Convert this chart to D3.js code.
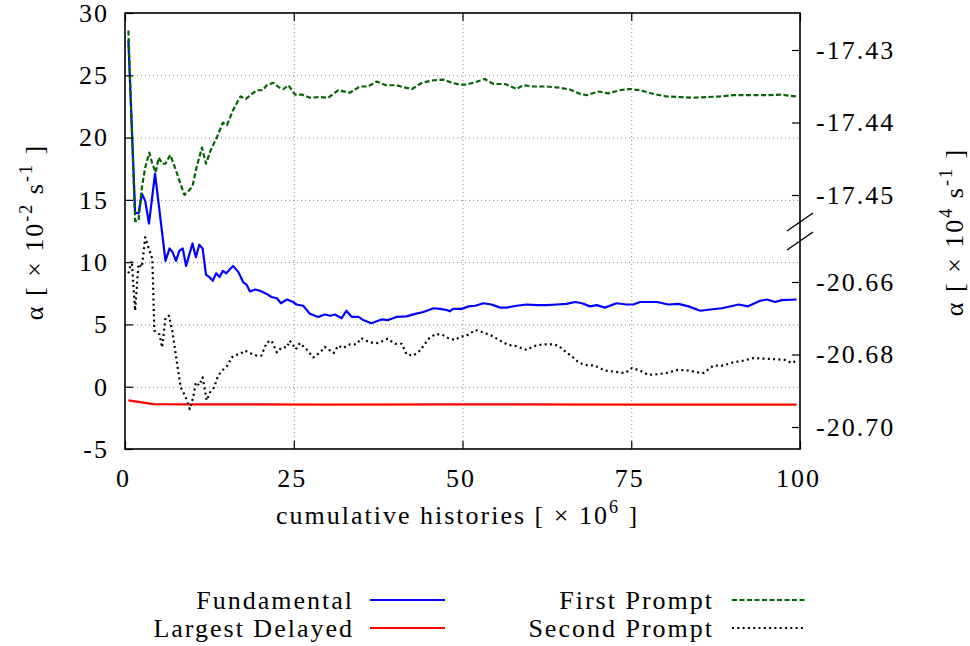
<!DOCTYPE html>
<html>

<head>
    <meta charset='UTF-8'>
    <script src='https://cdn.jsdelivr.net/npm/d3@7'></script>
    <style>
        body {
            margin: 0;
            background: #fff;
        }

        .grid line {
            stroke: #888;
            stroke-width: 1;
            stroke-dasharray: 1, 3;
        }

        .grid path,
        .axis path {
            display: none;
        }

        .axis line {
            stroke: #000;
            stroke-width: 1.2;
        }

        .line {
            fill: none;
            stroke-width: 2.2;
            stroke-linejoin: round;
        }
    </style>
</head>

<body>
    <script>
        // ---- data, x in 10^6 histories, alpha in 10^-2 s^-1
        const xTicks = [0, 25, 50, 75, 100];
        const yTicks = [-5, 0, 5, 10, 15, 20, 25, 30];
        const y2UpperTicks = [-17.43, -17.44, -17.45];
        const y2LowerTicks = [-20.66, -20.68, -20.70];

        const fundamental = [
            [0.5, 27.8], [1.5, 14.0], [2.0, 13.9], [2.5, 15.5], [3.0, 14.9], [3.55, 13.1], [4.45, 17.1],
            [6.0, 10.1], [6.6, 11.1], [7.05, 10.8], [7.55, 10.1], [8.05, 10.9], [8.55, 11.1], [9.05, 9.7],
            [10.0, 11.5], [10.5, 10.4], [11.0, 11.4], [11.5, 11.1], [12.0, 9.0], [12.5, 8.8], [13.0, 8.5],
            [13.5, 9.1], [14.0, 8.8], [14.5, 9.3], [15.0, 9.1], [16.0, 9.7], [16.8, 9.2], [17.5, 8.4],
            [18.0, 8.2], [18.5, 7.65], [19.3, 7.8], [20.0, 7.7], [21.0, 7.45], [21.7, 7.2], [22.5, 7.1],
            [23.1, 6.7], [24.0, 7.0], [24.9, 6.8], [25.4, 6.6], [26.4, 6.5], [27.4, 5.85], [28.6, 5.6],
            [29.6, 5.8], [30.4, 5.7], [31.1, 5.8], [32.1, 5.5], [32.8, 6.1], [33.6, 5.6], [34.6, 5.6],
            [35.3, 5.35], [36.5, 5.1], [38.0, 5.4], [39.0, 5.35], [40.2, 5.6], [41.7, 5.65], [43.0, 5.85],
            [44.2, 6.0], [45.7, 6.3], [46.7, 6.25], [47.7, 6.15], [48.1, 6.05], [48.6, 6.25], [49.9, 6.25],
            [50.9, 6.45], [51.9, 6.5], [53.1, 6.7], [54.3, 6.6], [55.6, 6.35], [56.5, 6.35], [58.0, 6.5],
            [59.5, 6.6], [61.0, 6.55], [62.5, 6.55], [64.0, 6.6], [65.4, 6.65], [66.7, 6.8], [67.7, 6.7],
            [68.9, 6.45], [69.9, 6.55], [71.1, 6.35], [72.8, 6.7], [74.3, 6.6], [75.3, 6.6], [76.3, 6.8],
            [78.8, 6.8], [80.5, 6.6], [82.0, 6.65], [83.5, 6.45], [85.2, 6.1], [86.7, 6.2], [88.4, 6.3],
            [90.1, 6.5], [90.9, 6.6], [92.3, 6.45], [94.1, 6.9], [95.1, 7.0], [96.3, 6.8], [97.3, 6.95],
            [99.5, 7.0]
        ];

        const largestDelayed = [
            [0.5, -1.1], [1.7, -1.2], [4.2, -1.4], [10, -1.42], [30, -1.43], [50, -1.42], [75, -1.43], [99.5, -1.43]
        ];

        const firstPrompt = [
            [0.5, 28.6], [1.5, 13.3], [2.0, 13.3], [2.5, 16.0], [3.0, 17.6], [3.6, 18.8], [4.05, 17.9],
            [4.55, 17.2], [5.0, 18.4], [5.5, 17.9], [6.0, 17.9], [6.7, 18.6], [7.4, 17.6], [8.15, 16.4],
            [8.8, 15.4], [9.4, 15.7], [10.0, 16.1], [10.6, 17.6], [11.4, 19.2], [12.0, 17.9], [12.7, 19.0],
            [13.6, 20.0], [14.5, 21.2], [15.1, 21.0], [16.0, 22.2], [17.1, 23.3], [17.9, 23.1], [18.8, 23.5],
            [19.5, 23.8], [20.4, 23.8], [21.0, 24.2], [22.0, 24.4], [22.9, 24.0], [23.5, 23.9], [24.2, 24.2],
            [25.2, 23.45], [26.2, 23.45], [27.4, 23.2], [28.9, 23.25], [30.1, 23.2], [31.6, 23.8], [33.3, 23.6],
            [34.8, 24.1], [36.0, 24.1], [37.3, 24.5], [38.7, 24.2], [40.2, 24.2], [41.2, 24.05], [42.5, 23.9],
            [44.0, 24.4], [45.7, 24.6], [47.2, 24.65], [48.4, 24.4], [49.6, 24.25], [50.6, 24.25], [51.9, 24.45],
            [53.3, 24.7], [54.6, 24.3], [56.3, 24.3], [58.0, 23.9], [59.0, 24.2], [60.5, 24.1], [62.5, 24.1],
            [64.4, 24.0], [65.9, 23.85], [67.2, 23.55], [68.4, 23.4], [70.1, 23.7], [71.6, 23.55], [73.3, 23.8],
            [74.8, 23.9], [76.3, 23.8], [78.3, 23.5], [80.2, 23.3], [82.2, 23.25], [84.4, 23.2], [86.2, 23.25],
            [88.1, 23.3], [90.1, 23.4], [92.6, 23.4], [95.1, 23.4], [97.0, 23.45], [99.5, 23.3]
        ];

        const secondPrompt = [
            [0.5, 9.1], [1.0, 10.1], [1.5, 6.1], [2.0, 9.85], [2.5, 9.6], [3.0, 12.0], [3.45, 11.2],
            [4.05, 10.25], [4.35, 4.5], [5.1, 4.2], [5.5, 3.15], [6.0, 5.55], [6.5, 5.7], [7.0, 4.5],
            [7.65, 2.1], [8.25, -0.05], [9.0, -0.85], [9.6, -1.8], [10.1, -0.85], [10.5, 0.35], [11.0, 0.1],
            [11.5, 0.75], [12.1, -1.1], [12.6, -0.45], [13.2, -0.05], [13.8, 0.9], [14.6, 1.4], [15.2, 1.7],
            [15.8, 2.35], [16.4, 2.55], [17.0, 2.6], [17.8, 2.9], [18.5, 2.7], [19.5, 2.5], [20.2, 2.5],
            [21.0, 3.55], [21.7, 3.7], [22.5, 2.75], [23.2, 3.15], [24.0, 3.15], [24.4, 3.7], [25.3, 3.0],
            [25.9, 3.5], [26.9, 3.0], [27.9, 2.35], [28.9, 2.75], [29.6, 3.2], [30.9, 2.7], [31.6, 3.3],
            [32.3, 3.1], [33.3, 3.4], [34.3, 3.4], [35.0, 3.9], [36.3, 3.55], [37.5, 3.5], [38.9, 3.85],
            [40.0, 3.45], [41.0, 3.45], [41.7, 2.6], [42.7, 2.5], [43.7, 2.9], [45.0, 3.85], [45.9, 4.2],
            [46.9, 4.2], [47.9, 3.9], [48.9, 3.75], [49.6, 4.0], [50.6, 4.1], [51.9, 4.55], [53.1, 4.35],
            [54.3, 4.1], [55.6, 3.7], [56.8, 3.35], [58.0, 3.25], [59.5, 2.95], [60.5, 3.25], [61.9, 3.4],
            [63.2, 3.4], [64.2, 3.3], [65.4, 2.75], [66.4, 2.35], [67.2, 1.95], [68.1, 1.75], [69.6, 1.7],
            [71.1, 1.3], [72.6, 1.2], [74.1, 1.1], [75.1, 1.5], [76.3, 1.3], [77.5, 0.95], [78.8, 1.0],
            [80.2, 1.1], [81.9, 1.35], [83.5, 1.3], [84.9, 1.15], [85.7, 1.1], [87.2, 1.7], [88.6, 1.7],
            [90.1, 1.95], [91.6, 2.1], [93.1, 2.3], [94.8, 2.25], [96.5, 2.2], [97.8, 2.15], [98.8, 1.9],
            [99.5, 2.1]
        ];

        const series = [
            { name: 'Fundamental', data: fundamental, color: '#0000ff', dash: null, col: 0, row: 0 },
            { name: 'Largest Delayed', data: largestDelayed, color: '#ff0000', dash: null, col: 0, row: 1 },
            { name: 'First Prompt', data: firstPrompt, color: '#006400', dash: '5,2.5', col: 1, row: 0 },
            { name: 'Second Prompt', data: secondPrompt, color: '#000000', dash: '2,3.3', col: 1, row: 1 }
        ];

        // ---- layout
        const W = 970, H = 646;
        const margin = { top: 13, right: 170, bottom: 197, left: 125 };
        const width = W - margin.left - margin.right;
        const height = H - margin.top - margin.bottom;
        const fontFamily = '"Liberation Serif"';

        const svg = d3.select('body').append('svg')
            .attr('width', W)
            .attr('height', H);

        const g = svg.append('g').attr('transform', `translate(${margin.left}, ${margin.top})`);

        const xScale = d3.scaleLinear().domain([0, 100]).range([0, width]);
        const yScale = d3.scaleLinear().domain([-5, 30]).range([height, 0]);

        // broken right axis: two separate scales
        const y2Upper = d3.scaleLinear().domain([-17.45, -17.43]).range([182, 37]);
        const y2Lower = d3.scaleLinear().domain([-20.70, -20.66]).range([414, 269]);

        // ---- grid
        g.append('g')
            .attr('class', 'grid')
            .attr('transform', `translate(0, ${height})`)
            .call(d3.axisBottom(xScale).tickValues(xTicks.slice(1, -1)).tickSize(-height).tickFormat(''));

        g.append('g')
            .attr('class', 'grid')
            .call(d3.axisLeft(yScale).tickValues(yTicks.slice(1, -1)).tickSize(-width).tickFormat(''));

        // ---- lines
        const line = d3.line()
            .x(d => xScale(d[0]))
            .y(d => yScale(d[1]));

        series.forEach(s => {
            g.append('path')
                .datum(s.data)
                .attr('class', 'line')
                .attr('d', line)
                .attr('stroke', s.color)
                .attr('stroke-dasharray', s.dash);
        });

        // ---- axes
        const xAxis = g.append('g')
            .attr('class', 'axis')
            .attr('transform', `translate(0, ${height})`)
            .call(d3.axisBottom(xScale).tickValues(xTicks).tickSizeInner(-8).tickSizeOuter(0).tickPadding(20));
        xAxis.selectAll('text').attr('x', -2);

        g.append('g')
            .attr('class', 'axis')
            .call(d3.axisTop(xScale).tickValues(xTicks).tickSizeInner(-8).tickSizeOuter(0).tickFormat(''));

        g.append('g')
            .attr('class', 'axis')
            .call(d3.axisLeft(yScale).tickValues(yTicks).tickSizeInner(-8).tickSizeOuter(0).tickPadding(16)
                .tickFormat(d => String(d)));

        [[y2Upper, y2UpperTicks], [y2Lower, y2LowerTicks]].forEach(([sc, tv]) => {
            g.append('g')
                .attr('class', 'axis')
                .attr('transform', `translate(${width}, 0)`)
                .call(d3.axisRight(sc).tickValues(tv).tickSizeInner(-8).tickSizeOuter(0).tickPadding(16)
                    .tickFormat(d => d.toFixed(2)));
        });

        // d3 axes put sans-serif on their groups; drop it so the serif face is inherited
        g.selectAll('.axis, .grid').attr('font-family', null).attr('font-size', null);

        // frame
        g.append('rect')
            .attr('width', width)
            .attr('height', height)
            .attr('fill', 'none')
            .attr('stroke', '#000')
            .attr('stroke-width', 1.6);

        // axis break marks
        const breakY = (y2Upper.range()[0] + y2Lower.range()[1]) / 2 - 7;
        [-9.5, 9.5].forEach(off => {
            g.append('line')
                .attr('x1', width - 13).attr('y1', breakY + off + 9)
                .attr('x2', width + 13).attr('y2', breakY + off - 9)
                .attr('stroke', '#000')
                .attr('stroke-width', 1.4);
        });

        // ---- axis titles
        function sup(t, s) {
            t.append('tspan').attr('dy', -11).attr('font-size', 18).text(s);
        }
        function base(t, s) {
            t.append('tspan').attr('dy', 11).text(s);
        }

        const xTitle = svg.append('text')
            .attr('x', margin.left + width / 2 - 5)
            .attr('y', 524)
            .attr('text-anchor', 'middle');
        xTitle.append('tspan').text('cumulative histories [ \u00d7 10');
        sup(xTitle, '6');
        base(xTitle, ' ]');

        function yTitle(x, exp) {
            const t = svg.append('text')
                .attr('text-anchor', 'middle')
                .attr('transform', `translate(${x}, 232) rotate(-90)`);
            t.append('tspan').text('\u03b1 [ \u00d7 10');
            sup(t, exp);
            base(t, ' s');
            sup(t, '-1');
            base(t, ' ]');
        }
        yTitle(43, '-2');
        yTitle(963, '4');

        // ---- legend
        const legendCols = [{ textRight: 354, x1: 370, x2: 445 }, { textRight: 714, x1: 732, x2: 806 }];
        const legendRows = [600, 628];

        series.forEach(s => {
            const c = legendCols[s.col];
            const ly = legendRows[s.row];
            svg.append('text')
                .attr('x', c.textRight)
                .attr('y', ly + 9)
                .attr('text-anchor', 'end')
                .text(s.name);
            svg.append('line')
                .attr('x1', c.x1).attr('x2', c.x2)
                .attr('y1', ly).attr('y2', ly)
                .attr('stroke', s.color)
                .attr('stroke-width', 2.2)
                .attr('stroke-dasharray', s.dash);
        });

        svg.selectAll('text')
            .style('font-family', fontFamily)
            .attr('font-size', 26)
            .attr('letter-spacing', 2)
            .attr('fill', '#000');
    </script>
</body>

</html>
